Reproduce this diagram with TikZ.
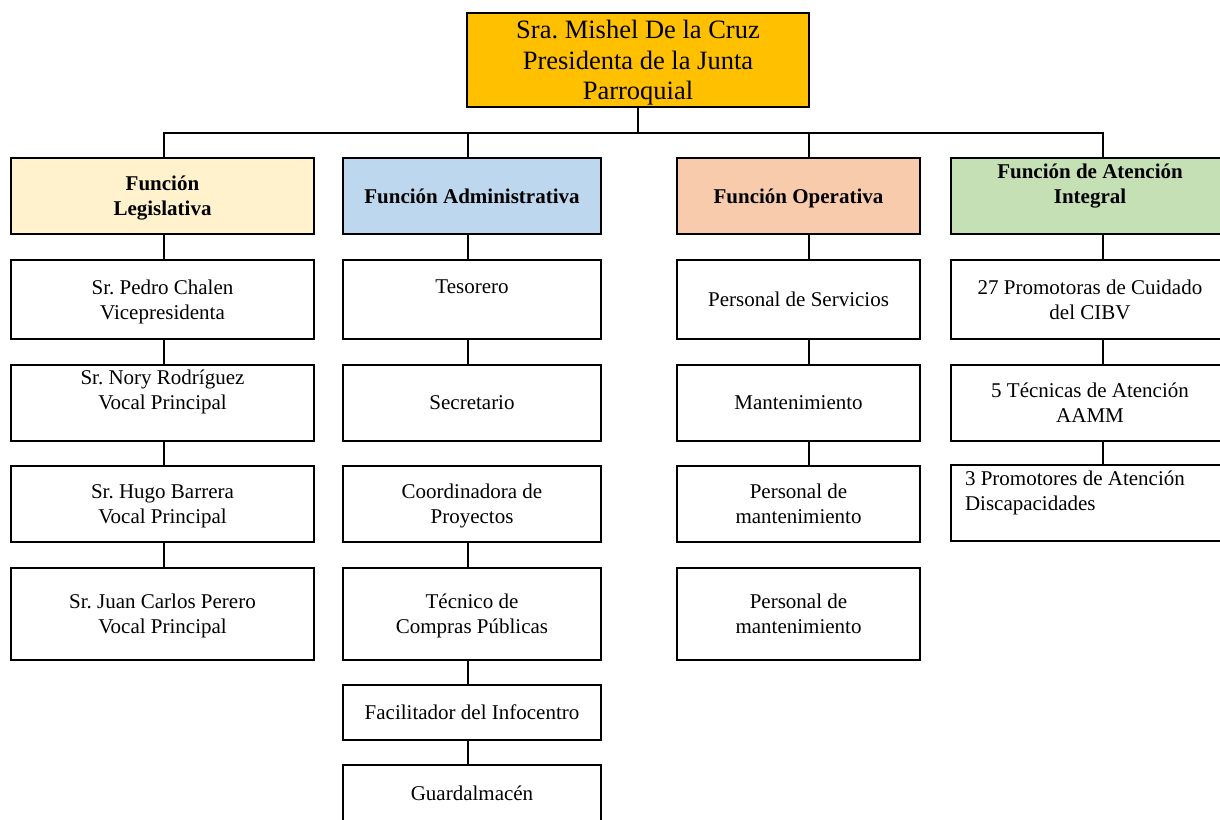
\documentclass[tikz,border=0pt]{standalone}
\usepackage{fontspec}
\setmainfont{Liberation Serif}
\usepackage{tikz}
\usetikzlibrary{calc}
\definecolor{oro}{HTML}{FFC000}
\definecolor{crema}{HTML}{FFF2CC}
\definecolor{celeste}{HTML}{BDD7EE}
\definecolor{salmon}{HTML}{F8CBAD}
\definecolor{verde}{HTML}{C5E0B4}
\newcommand{\cuerpo}{\fontsize{21}{25}\selectfont}
\newcommand{\grande}{\fontsize{26.5}{30.5}\selectfont}
\frenchspacing

\begin{document}
\begin{tikzpicture}[x = 1pt, y = -1pt,
    caja/.style = {draw, line width = 2pt, fill = white, inner sep = 0pt, outer sep = 0pt, align = center, text depth = 0pt, font = \cuerpo},
    funcion/.style = {caja, font = \cuerpo\bfseries, minimum height = 76pt},
    colA/.style = {minimum width = 303pt},
    colB/.style = {minimum width = 258pt},
    colC/.style = {minimum width = 243pt},
    colD/.style = {minimum width = 278pt},
    linea/.style = {line width = 2pt}]
    % Parametri
    \pgfmathsetmacro{\xa}{162.5}
    \pgfmathsetmacro{\xb}{472}
    \pgfmathsetmacro{\xc}{798.5}
    \pgfmathsetmacro{\xd}{1090}
    \useasboundingbox (0,0) rectangle (1220,819);
    % Assi delle colonne
    \coordinate (bus) at (638,133);
    \coordinate (ejeA) at (164,0);
    \coordinate (ejeB) at (468,0);
    \coordinate (ejeC) at (809,0);
    \coordinate (ejeD) at (1103,0);
    % Presidencia
    \node[caja, fill = oro, font = \grande, minimum width = 342pt, minimum height = 94pt] (pres) at (638,60) {Sra. Mishel De la Cruz\\Presidenta de la Junta\\Parroquial};
    % Funciones
    \node[funcion, colA, fill = crema] (leg) at (\xa,196) {Función\\Legislativa};
    \node[funcion, colB, fill = celeste] (adm) at (\xb,196) {Función Administrativa};
    \node[funcion, colC, fill = salmon] (ope) at (\xc,196) {Función Operativa};
    \node[funcion, colD, fill = verde] (ate) at (\xd,196) {Función de Atención\\Integral\\\mbox{}};
    % Legislativa
    \node[caja, colA, minimum height = 79pt] (a1) at (\xa,299.5) {Sr. Pedro Chalen\\Vicepresidenta};
    \node[caja, colA, minimum height = 76pt] (a2) at (\xa,402.5) {Sr. Nory Rodríguez\\Vocal Principal\\\mbox{}};
    \node[caja, colA, minimum height = 76pt] (a3) at (\xa,504) {Sr. Hugo Barrera\\Vocal Principal};
    \node[caja, colA, minimum height = 92pt] (a4) at (\xa,614) {Sr. Juan Carlos Perero\\Vocal Principal};
    % Administrativa
    \node[caja, colB, minimum height = 79pt] (b1) at (\xb,299.5) {Tesorero\\\mbox{}};
    \node[caja, colB, minimum height = 76pt] (b2) at (\xb,402.5) {Secretario};
    \node[caja, colB, minimum height = 76pt] (b3) at (\xb,504) {Coordinadora de\\Proyectos};
    \node[caja, colB, minimum height = 92pt] (b4) at (\xb,614) {Técnico de\\Compras Públicas};
    \node[caja, colB, minimum height = 55pt] (b5) at (\xb,712.5) {Facilitador del Infocentro};
    \node[caja, colB, minimum height = 56pt] (b6) at (\xb,793) {Guardalmacén};
    % Operativa
    \node[caja, colC, minimum height = 79pt] (c1) at (\xc,299.5) {Personal de Servicios};
    \node[caja, colC, minimum height = 76pt] (c2) at (\xc,402.5) {Mantenimiento};
    \node[caja, colC, minimum height = 76pt] (c3) at (\xc,504) {Personal de\\mantenimiento};
    \node[caja, colC, minimum height = 92pt] (c4) at (\xc,614) {Personal de\\mantenimiento};
    % Atencion integral
    \node[caja, colD, minimum height = 79pt] (d1) at (\xd,299.5) {27 Promotoras de Cuidado\\del CIBV};
    \node[caja, colD, minimum height = 76pt] (d2) at (\xd,402.5) {5 Técnicas de Atención\\AAMM};
    \node[caja, colD, minimum height = 76pt, align = flush left, text width = 250pt, text depth = 49pt] (d3) at (\xd,503) {3 Promotores de Atención\\Discapacidades\\\mbox{}};
    % Collegamenti
    \draw[linea] (pres.south) -- (bus);
    \draw[linea] (leg.north -| ejeA) |- (bus) -| (ate.north -| ejeD);
    \draw[linea] (adm.north -| ejeB) -- (bus -| ejeB);
    \draw[linea] (ope.north -| ejeC) -- (bus -| ejeC);
    \foreach \p/\q in {leg/a1, a1/a2, a2/a3, a3/a4}
        \draw[linea] (\p.south -| ejeA) -- (\q.north -| ejeA);
    \foreach \p/\q in {adm/b1, b1/b2, b3/b4, b4/b5, b5/b6}
        \draw[linea] (\p.south -| ejeB) -- (\q.north -| ejeB);
    \foreach \p/\q in {ope/c1, c1/c2, c2/c3}
        \draw[linea] (\p.south -| ejeC) -- (\q.north -| ejeC);
    \foreach \p/\q in {ate/d1, d1/d2, d2/d3}
        \draw[linea] (\p.south -| ejeD) -- (\q.north -| ejeD);
\end{tikzpicture}
\end{document}
